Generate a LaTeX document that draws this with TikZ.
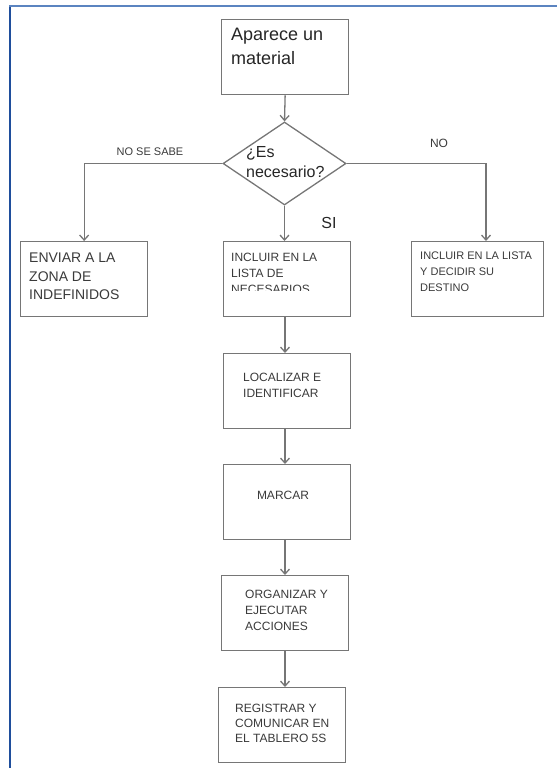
\documentclass[tikz,border=0pt]{standalone}
\usepackage{fontspec}
\setmainfont{Liberation Sans}
\usetikzlibrary{arrows.meta,shapes.geometric}
\definecolor{linegray}{HTML}{767676}
\definecolor{txtgray}{HTML}{3A3A3A}
\definecolor{framedark}{HTML}{1F4E9C}
\definecolor{framelight}{HTML}{5B84C0}
\begin{document}
\begin{tikzpicture}[x=1pt,y=-1pt,
  box/.style={draw=linegray,line width=1.3pt,minimum width=127pt,minimum height=75pt,inner sep=0pt,anchor=north west},
  dia/.style={draw=linegray,line width=1.3pt,diamond,minimum width=123pt,minimum height=83pt,inner sep=0pt},
  arr/.style={draw=linegray,line width=1.3pt,-{Straight Barb[length=5pt,width=9pt,line width=1.3pt]}},
  txt/.style={inner sep=0pt,anchor=north west,align=left,text=txtgray},
  small/.style={txt,font=\fontsize{12}{16}\selectfont},
  lbl/.style={inner sep=0pt,text=txtgray}]
\useasboundingbox (0,0) rectangle (557,768);
% frame
\draw[framedark,line width=2pt] (10,768) -- (10,6.5);
\draw[framelight,line width=2pt] (9,6.5) -- (557,6.5);
% boxes
\node[box] (top) at (221,19) {};
\node[dia] (dia) at (284.5,163.5) {};
\node[box] (l2) at (20,241) {};
\node[box] (c2) at (223,241) {};
\node[box,minimum width=132pt] (r2) at (411,241) {};
\node[box] (loc) at (223,353) {};
\node[box] (mar) at (223,464) {};
\node[box] (org) at (221,575) {};
\node[box] (reg) at (218,687) {};
% texts
\node[txt,font=\fontsize{18}{24}\selectfont,text=black!85] (ttop) at (231,28) {Aparece un\\material};
\node[txt,font=\fontsize{16}{20.5}\selectfont,text=black!85] (tdia) at (246,146) {¿Es\\necesario?};
\node[txt,font=\fontsize{14}{18.5}\selectfont] (tl2) at (29,253) {ENVIAR A LA\\ZONA DE\\INDEFINIDOS};
\begin{scope}
\clip (c2.north west) rectangle (351,290);
\node[small] (tc2) at (231,253) {INCLUIR EN LA\\LISTA DE\\NECESARIOS};
\end{scope}
\node[small,font=\fontsize{11}{16}\selectfont] (tr2) at (420,252) {INCLUIR EN LA LISTA\\Y DECIDIR SU\\DESTINO};
\node[small] (tloc) at (243,373) {LOCALIZAR E\\IDENTIFICAR};
\node[lbl,font=\fontsize{12}{16}\selectfont,anchor=base] (tmar) at (283,499) {MARCAR};
\node[small] (torg) at (245,590) {ORGANIZAR Y\\EJECUTAR\\ACCIONES};
\node[small,font=\fontsize{12}{15}\selectfont] (treg) at (235,704) {REGISTRAR Y\\COMUNICAR EN\\EL TABLERO 5S};
% labels
\node[lbl,font=\fontsize{11}{13}\selectfont,anchor=base] (nss) at (150,155) {NO SE SABE};
\node[lbl,font=\fontsize{12}{14}\selectfont,anchor=base] (no) at (439,147) {NO};
\node[lbl,font=\fontsize{16}{18}\selectfont,anchor=base,text=black!85] (si) at (329,228) {SI};
% connectors
\coordinate (col) at (285,0);
\coordinate (rt) at (486,163.5);
\draw[arr] (top.south) -- (dia.north);
\draw[arr] (dia.west) -| (l2.north);
\draw[arr] (dia.east) -- (rt) -- (rt |- r2.north);
\draw[arr] (dia.south) -- (dia.south |- c2.north);
\draw[arr] (c2.south -| col) -- (col |- loc.north);
\draw[arr] (loc.south -| col) -- (col |- mar.north);
\draw[arr] (mar.south -| col) -- (col |- org.north);
\draw[arr] (org.south -| col) -- (col |- reg.north);
\end{tikzpicture}
\end{document}
